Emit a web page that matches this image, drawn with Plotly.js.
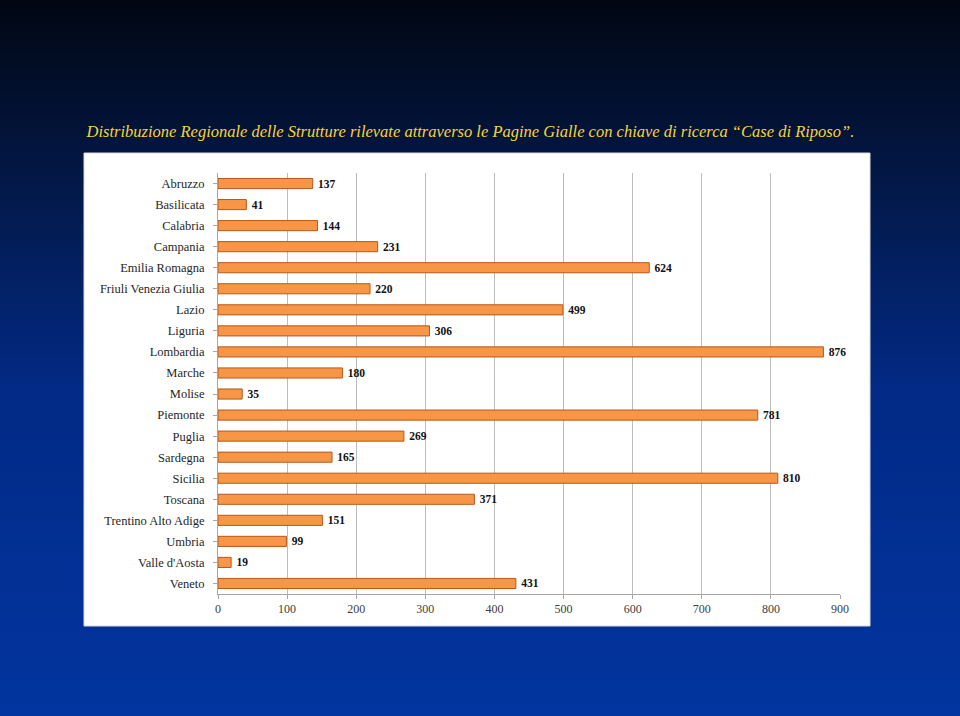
<!DOCTYPE html>
<html>
<head>
<meta charset="utf-8">
<script src="https://cdn.plot.ly/plotly-3.0.1.min.js"></script>
<style>
html,body{margin:0;padding:0;width:960px;height:716px;overflow:hidden;}
body{background:linear-gradient(to bottom,#010612 0%,#031640 22%,#022a86 55%,#0235a0 100%);}
#chart{width:960px;height:716px;}
</style>
</head>
<body>
<div id="chart"></div>
<script>
const regions = ["Abruzzo","Basilicata","Calabria","Campania","Emilia Romagna","Friuli Venezia Giulia","Lazio","Liguria","Lombardia","Marche","Molise","Piemonte","Puglia","Sardegna","Sicilia","Toscana","Trentino Alto Adige","Umbria","Valle d'Aosta","Veneto"];
const strutture = [137,41,144,231,624,220,499,306,876,180,35,781,269,165,810,371,151,99,19,431];
const xTicks = [0,100,200,300,400,500,600,700,800,900];
const titleText = "Distribuzione Regionale delle Strutture rilevate attraverso le Pagine Gialle con chiave di ricerca \u201cCase di Riposo\u201d.";

const W = 960, H = 716;
const m = {l:218, r:120, t:173, b:122};
const pw = W - m.l - m.r, ph = H - m.t - m.b;
// white panel in paper coordinates
const px0 = (84 - m.l)/pw, px1 = (870 - m.l)/pw;
const py0 = (H - 626 - m.b)/ph, py1 = (H - 153 - m.b)/ph;

const trace = {
  type: 'bar',
  orientation: 'h',
  y: regions,
  x: strutture,
  texttemplate: '\u2009%{x}',
  textposition: 'outside',
  constraintext: 'none',
  cliponaxis: false,
  textfont: {family: 'Liberation Serif, serif', size: 11.5, color: '#111111', weight: 'bold'},
  marker: {color: '#F79646', line: {color: '#B8581A', width: 1}},
  hoverinfo: 'x+y'
};

const layout = {
  width: W, height: H,
  margin: m,
  paper_bgcolor: 'rgba(0,0,0,0)',
  plot_bgcolor: 'rgba(0,0,0,0)',
  showlegend: false,
  title: {
    text: titleText,
    font: {family: 'Liberation Serif, serif', size: 16.5, color: '#F7D23E', style: 'italic'},
    xref: 'container', x: 0.49, xanchor: 'center',
    yref: 'container', y: 1 - 131/716, yanchor: 'middle'
  },
  xaxis: {
    range: [0, 900],
    tickvals: xTicks,
    ticktext: xTicks.map(String),
    showgrid: true, gridcolor: '#BDBDBD', gridwidth: 1,
    zeroline: false,
    showline: true, linecolor: '#A6A6A6', linewidth: 1,
    ticks: 'outside', ticklen: 4, tickcolor: '#A6A6A6',
    tickfont: {family: 'Liberation Serif, serif', size: 12, color: '#404040'},
    fixedrange: true
  },
  yaxis: {
    autorange: 'reversed',
    type: 'category',
    showgrid: false,
    showline: true, linecolor: '#A6A6A6', linewidth: 1,
    ticks: 'outside', ticklen: 4, tickcolor: '#A6A6A6',
    tickfont: {family: 'Liberation Serif, serif', size: 12.5, color: '#262626'},
    ticklabelstandoff: 6,
    fixedrange: true
  },
  bargap: 0.52,
  shapes: [{
    type: 'rect', xref: 'paper', yref: 'paper',
    x0: px0, x1: px1, y0: py0, y1: py1,
    fillcolor: '#FFFFFF', line: {color: '#D9D9D9', width: 1},
    layer: 'below'
  }]
};

Plotly.newPlot('chart', [trace], layout, {displayModeBar: false, staticPlot: true});
</script>
</body>
</html>
